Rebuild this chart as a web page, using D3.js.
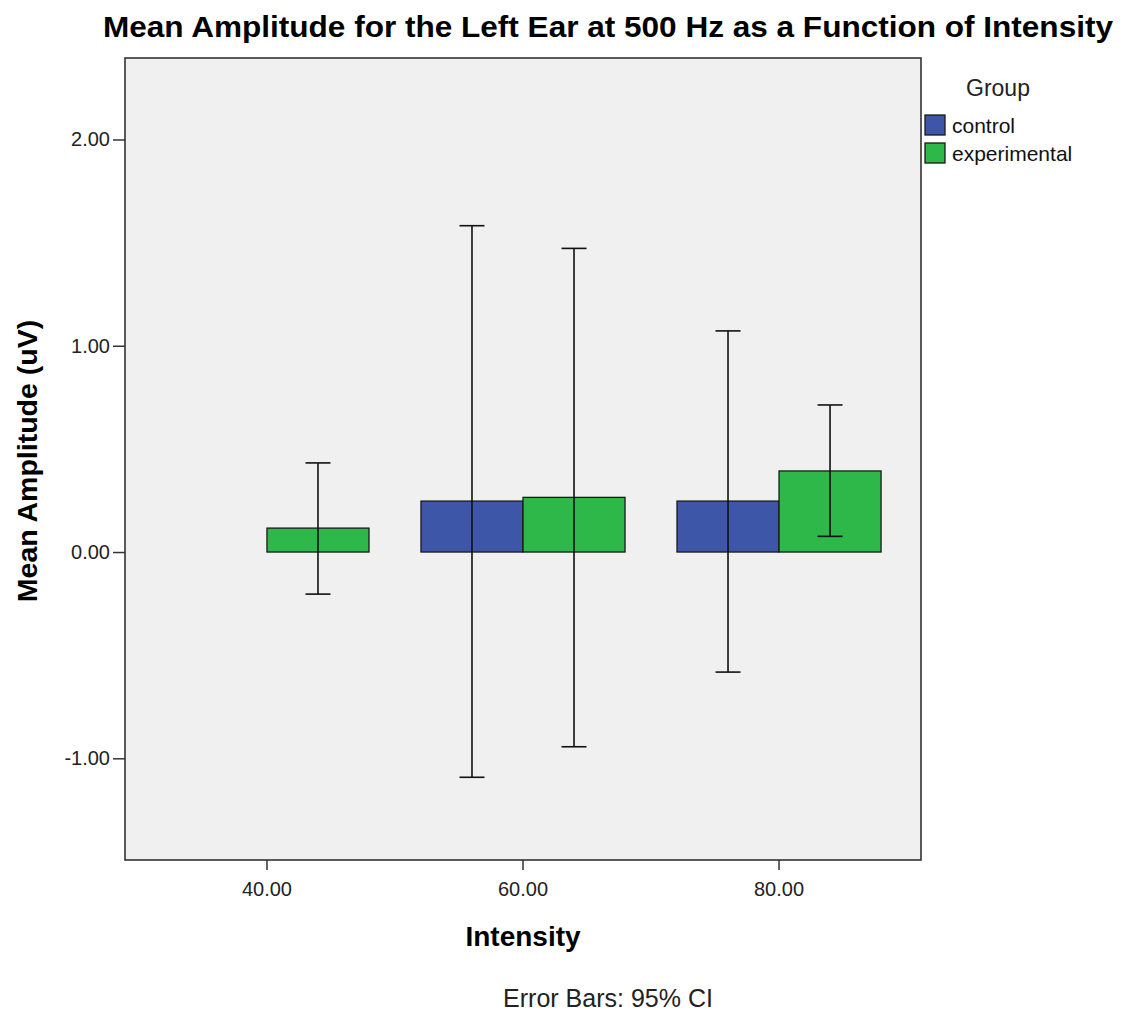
<!DOCTYPE html>
<html>
<head>
<meta charset="utf-8">
<script src="https://cdn.jsdelivr.net/npm/d3@7"></script>
<style>
  html, body { margin: 0; padding: 0; background: #fff; }
  svg { display: block; font-family: "Liberation Sans", Arial, sans-serif; }
</style>
</head>
<body>
<svg id="chart" width="1122" height="1013"></svg>
<script>
// Intensity levels (x categories) and groups
const categories = ["40.00", "60.00", "80.00"];
const groups = ["control", "experimental"];

// Mean amplitude (uV) with 95% CI bounds; null = no data for that cell
const controlMean = [null, 0.247, 0.247];
const controlLow  = [null, -1.092, -0.582];
const controlHigh = [null, 1.582, 1.072];

const experimentalMean = [0.116, 0.265, 0.393];
const experimentalLow  = [-0.204, -0.944, 0.076];
const experimentalHigh = [0.432, 1.472, 0.713];

const yTicks = [-1, 0, 1, 2];
const yDomain = [-1.493, 2.395];

const groupColors = ["#3d56a8", "#2fb84a"];

// Long-format rows built from the arrays above
const seriesMeans = [controlMean, experimentalMean];
const seriesLows = [controlLow, experimentalLow];
const seriesHighs = [controlHigh, experimentalHigh];
const rows = [];
groups.forEach((g, gi) => {
  categories.forEach((c, ci) => {
    if (seriesMeans[gi][ci] == null) return;
    rows.push({ cat: c, group: g, mean: seriesMeans[gi][ci], lo: seriesLows[gi][ci], hi: seriesHighs[gi][ci] });
  });
});

const svg = d3.select("#chart");
const plot = { left: 125, right: 921, top: 58, bottom: 860 };

const x = d3.scaleBand()
  .domain(categories)
  .range([plot.left, plot.right])
  .paddingInner(0.203)
  .paddingOuter(0.156);

const xg = d3.scaleBand()
  .domain(groups)
  .range([0, x.bandwidth()]);

const y = d3.scaleLinear()
  .domain(yDomain)
  .range([plot.bottom, plot.top]);

const color = d3.scaleOrdinal().domain(groups).range(groupColors);

// plot background
svg.append("rect")
  .attr("x", plot.left).attr("y", plot.top)
  .attr("width", plot.right - plot.left).attr("height", plot.bottom - plot.top)
  .attr("fill", "#f0f0f0");

// bars
svg.append("g").selectAll("rect")
  .data(rows)
  .join("rect")
  .attr("x", d => x(d.cat) + xg(d.group))
  .attr("width", xg.bandwidth())
  .attr("y", d => y(Math.max(0, d.mean)))
  .attr("height", d => Math.abs(y(d.mean) - y(0)))
  .attr("fill", d => color(d.group))
  .attr("stroke", "#1a1a1a")
  .attr("stroke-width", 1.3);

// error bars (95% CI)
const capHalf = 12.5;
const eb = svg.append("g").attr("stroke", "#111").attr("stroke-width", 1.6).attr("fill", "none");
rows.forEach(d => {
  const cx = x(d.cat) + xg(d.group) + xg.bandwidth() / 2;
  eb.append("line").attr("x1", cx).attr("x2", cx).attr("y1", y(d.hi)).attr("y2", y(d.lo));
  eb.append("line").attr("x1", cx - capHalf).attr("x2", cx + capHalf).attr("y1", y(d.hi)).attr("y2", y(d.hi));
  eb.append("line").attr("x1", cx - capHalf).attr("x2", cx + capHalf).attr("y1", y(d.lo)).attr("y2", y(d.lo));
});

// frame
svg.append("rect")
  .attr("x", plot.left).attr("y", plot.top)
  .attr("width", plot.right - plot.left).attr("height", plot.bottom - plot.top)
  .attr("fill", "none").attr("stroke", "#333").attr("stroke-width", 1.6);

// axes (plain hyphen for negatives)
const fmt = v => d3.format(".2f")(v).replace("\u2212", "-");
const yAxis = svg.append("g")
  .attr("transform", `translate(${plot.left},0)`)
  .call(d3.axisLeft(y).tickValues(yTicks).tickFormat(fmt).tickSize(12).tickPadding(3));
const xAxis = svg.append("g")
  .attr("transform", `translate(0,${plot.bottom})`)
  .call(d3.axisBottom(x).tickSize(10).tickPadding(12));
[yAxis, xAxis].forEach(a => {
  a.select(".domain").remove();
  a.selectAll(".tick line").attr("stroke", "#333").attr("stroke-width", 1.5);
  a.selectAll(".tick text").attr("fill", "#222").attr("font-size", 20).attr("font-family", "Liberation Sans, Arial, sans-serif");
});

// titles
svg.append("text")
  .attr("x", 608).attr("y", 37)
  .attr("text-anchor", "middle")
  .attr("font-size", 30).attr("font-weight", "bold").attr("fill", "#000")
  .attr("textLength", 1010).attr("lengthAdjust", "spacingAndGlyphs")
  .text("Mean Amplitude for the Left Ear at 500 Hz as a Function of Intensity");

svg.append("text")
  .attr("x", (plot.left + plot.right) / 2).attr("y", 946)
  .attr("text-anchor", "middle")
  .attr("font-size", 28).attr("font-weight", "bold").attr("fill", "#000")
  .text("Intensity");

svg.append("text")
  .attr("transform", `translate(37,${(plot.top + plot.bottom) / 2 + 2}) rotate(-90)`)
  .attr("text-anchor", "middle")
  .attr("font-size", 28.5).attr("font-weight", "bold").attr("fill", "#000")
  .text("Mean Amplitude (uV)");

svg.append("text")
  .attr("x", 608).attr("y", 1007)
  .attr("text-anchor", "middle")
  .attr("font-size", 25).attr("fill", "#222")
  .text("Error Bars: 95% CI");

// legend
const legend = svg.append("g");
legend.append("text")
  .attr("x", 998).attr("y", 96)
  .attr("text-anchor", "middle")
  .attr("font-size", 23).attr("fill", "#222")
  .text("Group");
const items = legend.selectAll("g.item")
  .data(groups)
  .join("g")
  .attr("class", "item")
  .attr("transform", (d, i) => `translate(925,${115 + i * 28})`);
items.append("rect")
  .attr("width", 20).attr("height", 20)
  .attr("fill", d => color(d))
  .attr("stroke", "#1a1a1a").attr("stroke-width", 1.3);
items.append("text")
  .attr("x", 27).attr("y", 18)
  .attr("font-size", 21).attr("fill", "#111")
  .text(d => d);
</script>
</body>
</html>
